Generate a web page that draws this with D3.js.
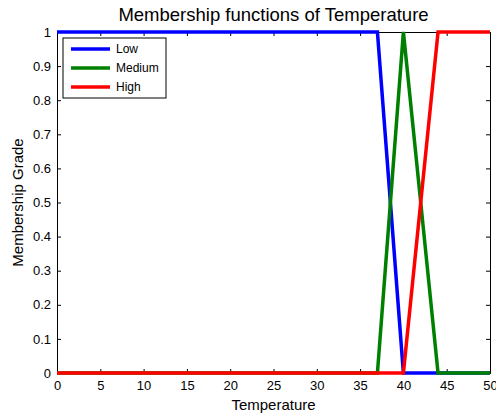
<!DOCTYPE html>
<html>
<head>
<meta charset="utf-8">
<script src="https://cdn.jsdelivr.net/npm/d3@7"></script>
<style>
  body { margin: 0; background: #fff; }
  text { font-family: "Liberation Sans", Arial, sans-serif; fill: #000; }
</style>
</head>
<body>
<div id="chart"></div>
<script>
// membership functions, breakpoints
var lowX    = [0, 37, 40, 50],
    lowY    = [1, 1, 0, 0],
    medX    = [0, 37, 40, 44, 50],
    medY    = [0, 0, 1, 0, 0],
    highX   = [0, 40, 44, 50],
    highY   = [0, 0, 1, 1],
    names   = ["Low", "Medium", "High"],
    colors  = ["#0000ff", "#008000", "#ff0000"],
    xTicks  = [0, 5, 10, 15, 20, 25, 30, 35, 40, 45, 50],
    yTicks  = [0, 0.1, 0.2, 0.3, 0.4, 0.5, 0.6, 0.7, 0.8, 0.9, 1];

var W = 496, H = 416,
    m = {left: 57, right: 6, top: 32, bottom: 43},
    w = W - m.left - m.right,
    h = H - m.top - m.bottom;

var x = d3.scaleLinear().domain([0, 50]).range([0, w]),
    y = d3.scaleLinear().domain([0, 1]).range([h, 0]);

var svg = d3.select("#chart").append("svg")
    .attr("width", W)
    .attr("height", H);

var g = svg.append("g").attr("transform", "translate(" + m.left + "," + m.top + ")");

// axes with inward ticks, plus top/right mirror
function styleAxis(sel) {
  sel.selectAll(".domain").attr("stroke", "#000").attr("stroke-width", 1);
  sel.selectAll(".tick line").attr("stroke", "#000");
  sel.selectAll("text").style("font-size", "13px");
}
g.append("g").attr("transform", "translate(0," + h + ")")
  .call(d3.axisBottom(x).tickValues(xTicks).tickSize(-4).tickPadding(8))
  .call(styleAxis);
g.append("g")
  .call(d3.axisLeft(y).tickValues(yTicks).tickFormat(d3.format("")).tickSize(-4).tickPadding(6))
  .call(styleAxis);
g.append("g")
  .call(d3.axisTop(x).tickValues(xTicks).tickSize(-4).tickFormat(""))
  .call(styleAxis);
g.append("g").attr("transform", "translate(" + w + ",0)")
  .call(d3.axisRight(y).tickValues(yTicks).tickSize(-4).tickFormat(""))
  .call(styleAxis);

var series = [
  d3.zip(lowX, lowY),
  d3.zip(medX, medY),
  d3.zip(highX, highY)
];

var line = d3.line()
  .x(function(d) { return x(d[0]); })
  .y(function(d) { return y(d[1]); });

g.selectAll(".mf")
  .data(series)
  .enter()
  .append("path")
  .attr("class", "mf")
  .attr("d", line)
  .attr("fill", "none")
  .attr("stroke", function(d, i) { return colors[i]; })
  .attr("stroke-width", 3.5);

// legend
var lg = g.append("g").attr("transform", "translate(6,6)");
lg.append("rect")
  .attr("width", 103).attr("height", 60)
  .attr("fill", "#fff").attr("stroke", "#000").attr("stroke-width", 1);
names.forEach(function(n, i) {
  var yy = 11 + i * 19;
  lg.append("line")
    .attr("x1", 8).attr("x2", 47)
    .attr("y1", yy).attr("y2", yy)
    .attr("stroke", colors[i]).attr("stroke-width", 3.5);
  lg.append("text")
    .attr("x", 53).attr("y", yy)
    .attr("dy", "0.35em")
    .style("font-size", "12px")
    .text(n);
});

// labels
svg.append("text")
  .attr("x", m.left + w / 2).attr("y", 21)
  .attr("text-anchor", "middle")
  .style("font-size", "18.5px")
  .text("Membership functions of Temperature");

svg.append("text")
  .attr("x", m.left + w / 2).attr("y", 410)
  .attr("text-anchor", "middle")
  .style("font-size", "15px")
  .text("Temperature");

svg.append("text")
  .attr("transform", "translate(23," + (m.top + h / 2) + ") rotate(-90)")
  .attr("text-anchor", "middle")
  .style("font-size", "15px")
  .text("Membership Grade");
</script>
</body>
</html>
